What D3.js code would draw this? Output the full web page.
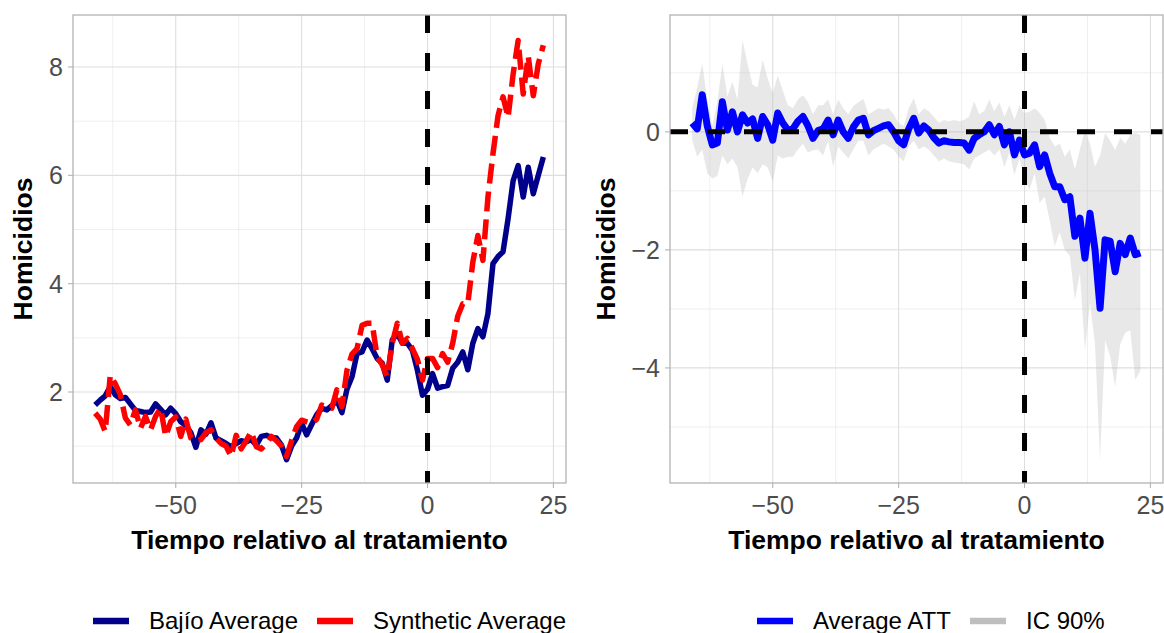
<!DOCTYPE html>
<html>
<head>
<meta charset="utf-8">
<title>Homicidios: Bajío vs sintético</title>
<style>
  body { margin: 0; background: #fff; }
  svg { font-family: "Liberation Sans", Arial, Helvetica, sans-serif; }
  .grid-major { stroke: #dedede; stroke-width: 1.1; }
  .grid-minor { stroke: #ebebeb; stroke-width: 0.8; }
  .frame { fill: none; stroke: #b3b3b3; stroke-width: 1.3; }
  .tick-mark { stroke: #b3b3b3; stroke-width: 1.1; }
  .tick-label { fill: #4d4d4d; font-size: 25px; }
  .axis-title { fill: #000; font-size: 26.5px; font-weight: bold; }
  .legend-label { fill: #000; font-size: 24px; }
</style>
</head>
<body>
<svg id="chart" width="1164" height="633"></svg>
<script src="https://d3js.org/d3.v7.min.js"></script>
<script>
// time relative to treatment
var periods = d3.range(-66, 24);

// left panel
var bajio = [1.76, 1.85, 1.93, 2.10, 1.95, 1.88, 1.90, 1.78, 1.66, 1.64,
             1.62, 1.63, 1.78, 1.68, 1.58, 1.70, 1.60, 1.45, 1.38, 1.25,
             0.98, 1.30, 1.22, 1.43, 1.15, 1.10, 1.05, 0.99, 1.05, 1.10,
             1.08, 1.12, 1.02, 1.18, 1.20, 1.16, 1.15, 1.02, 0.75, 1.00,
             1.15, 1.42, 1.21, 1.40, 1.58, 1.70, 1.67, 1.75, 1.85, 1.62,
             2.05, 2.28, 2.71, 2.74, 2.96, 2.80, 2.62, 2.53, 2.22, 2.96,
             3.08, 2.90, 2.90, 2.77, 2.40, 1.94, 2.05, 2.34, 2.07, 2.10,
             2.12, 2.44, 2.55, 2.74, 2.41, 2.90, 3.17, 3.02, 3.45, 4.37,
             4.50, 4.59, 5.20, 5.90, 6.18, 5.60, 6.15, 5.66, 6.00, 6.34];
var synthetic = [1.61, 1.50, 1.27, 2.31, 2.15, 1.95, 1.52, 1.39, 1.67, 1.33,
                 1.55, 1.30, 1.55, 1.70, 1.18, 1.45, 1.54, 1.18, 1.50, 1.15,
                 1.10, 1.12, 1.25, 1.30, 1.15, 1.05, 1.00, 0.81, 1.20, 0.95,
                 1.10, 1.27, 0.99, 0.95, 1.05, 1.18, 1.10, 1.00, 0.81, 1.10,
                 1.36, 1.48, 1.45, 1.42, 1.50, 1.76, 1.73, 1.70, 2.04, 1.73,
                 2.40, 2.70, 2.80, 3.23, 3.27, 3.27, 2.65, 2.50, 2.28, 2.90,
                 3.27, 2.90, 2.99, 2.80, 2.60, 2.22, 2.62, 2.62, 2.45, 2.71,
                 2.55, 2.90, 3.40, 3.63, 3.63, 4.40, 4.89, 4.43, 5.60, 6.40,
                 7.10, 7.45, 7.07, 7.87, 8.49, 7.50, 8.20, 7.47, 8.06, 8.40];

// right panel
var att = [0.15, 0.05, 0.63, 0.10, -0.22, -0.19, 0.51, 0.03, 0.34, 0.00,
           0.29, 0.15, 0.22, -0.11, 0.26, 0.12, -0.14, 0.32, 0.15, 0.03,
           0.05, 0.18, 0.26, 0.10, -0.11, 0.02, 0.05, 0.20, -0.05, 0.20,
           0.00, -0.11, 0.08, 0.20, 0.23, -0.05, 0.02, 0.06, 0.10, 0.12,
           0.00, -0.15, -0.22, 0.05, 0.23, -0.02, 0.10, 0.03, -0.10, -0.19,
           -0.15, -0.17, -0.18, -0.18, -0.19, -0.31, -0.11, -0.05, 0.00, 0.12,
           -0.05, 0.09, -0.22, 0.00, -0.39, -0.14, -0.39, -0.36, -0.22, -0.59,
           -0.39, -0.70, -0.93, -0.93, -1.15, -1.10, -1.77, -1.46, -2.14, -1.38,
           -2.00, -2.99, -1.83, -1.85, -2.37, -1.89, -2.08, -1.80, -2.08, -2.05];
var icLow = [-0.14, -0.42, -0.30, -0.70, -0.79, -0.75, -0.40, -0.55, -0.45, -0.60,
             -1.10, -0.80, -0.60, -0.70, -0.55, -0.60, -0.85, -0.40, -0.45, -0.42,
             -0.42, -0.30, -0.20, -0.35, -0.31, -0.30, -0.40, -0.15, -0.59, -0.25,
             -0.35, -0.45, -0.30, -0.15, -0.15, -0.40, -0.30, -0.25, -0.20, -0.25,
             -0.30, -0.42, -0.50, -0.25, -0.15, -0.30, -0.25, -0.30, -0.40, -0.50,
             -0.45, -0.50, -0.52, -0.53, -0.55, -0.64, -0.45, -0.40, -0.35, -0.30,
             -0.40, -0.30, -0.60, -0.35, -0.73, -0.45, -0.80, -0.98, -0.70, -1.20,
             -1.10, -1.50, -1.94, -1.70, -2.00, -2.10, -2.85, -2.40, -3.70, -2.90,
             -3.60, -5.56, -3.53, -3.80, -4.32, -3.60, -3.40, -3.36, -4.20, -4.05];
var icHigh = [0.40, 0.75, 1.16, 0.55, 0.10, 0.50, 1.16, 0.60, 0.85, 0.55,
              1.55, 1.16, 0.80, 0.75, 1.22, 0.90, 0.66, 0.95, 0.70, 0.45,
              0.40, 0.55, 0.62, 0.50, 0.30, 0.45, 0.45, 0.55, 0.30, 0.55,
              0.40, 0.30, 0.44, 0.50, 0.56, 0.30, 0.35, 0.40, 0.38, 0.40,
              0.30, 0.15, 0.10, 0.40, 0.57, 0.30, 0.40, 0.35, 0.25, 0.15,
              0.20, 0.18, 0.20, 0.18, 0.20, 0.26, 0.52, 0.30, 0.35, 0.55,
              0.35, 0.50, 0.25, 0.45, 0.20, 0.45, 0.32, 0.34, 0.40, 0.32,
              0.20, -0.10, -0.25, -0.20, -0.42, -0.30, -0.64, -0.30, 0.03, -0.20,
              -0.59, -0.40, -0.02, -0.15, -0.31, -0.10, -0.20, -0.05, -0.02, -0.05];

var xTicks = [-50, -25, 0, 25];
var xMinor = [-62.5, -37.5, -12.5, 12.5];
var yTicksLeft = [2, 4, 6, 8];
var yMinorLeft = [1, 3, 5, 7];
var yTicksRight = [-4, -2, 0];
var yMinorRight = [-5, -3, -1, 1];

var xTitle = "Tiempo relativo al tratamiento";
var yTitle = "Homicidios";

var svg = d3.select("#chart");
var panelTop = 15, panelBottom = 483;

function fmt(v) { return v < 0 ? "\u2212" + Math.abs(v) : String(v); }

function drawPanel(id, left, right, yDomain, yTicks, yMinor, yTitleX) {
  var x = d3.scaleLinear().domain([-70.4, 27.5]).range([left, right]);
  var y = d3.scaleLinear().domain(yDomain).range([panelBottom, panelTop]);
  var g = svg.append("g");

  g.append("clipPath").attr("id", id)
    .append("rect").attr("x", left).attr("y", panelTop)
    .attr("width", right - left).attr("height", panelBottom - panelTop);

  g.selectAll(".ym").data(yMinor).enter().append("line")
    .attr("class", "grid-minor")
    .attr("x1", left).attr("x2", right)
    .attr("y1", d => y(d)).attr("y2", d => y(d));
  g.selectAll(".xm").data(xMinor).enter().append("line")
    .attr("class", "grid-minor")
    .attr("y1", panelTop).attr("y2", panelBottom)
    .attr("x1", d => x(d)).attr("x2", d => x(d));
  g.selectAll(".yM").data(yTicks).enter().append("line")
    .attr("class", "grid-major")
    .attr("x1", left).attr("x2", right)
    .attr("y1", d => y(d)).attr("y2", d => y(d));
  g.selectAll(".xM").data(xTicks).enter().append("line")
    .attr("class", "grid-major")
    .attr("y1", panelTop).attr("y2", panelBottom)
    .attr("x1", d => x(d)).attr("x2", d => x(d));

  // ticks and labels
  g.selectAll(".xt").data(xTicks).enter().append("line")
    .attr("class", "tick-mark")
    .attr("x1", d => x(d)).attr("x2", d => x(d))
    .attr("y1", panelBottom).attr("y2", panelBottom + 5);
  g.selectAll(".xl").data(xTicks).enter().append("text")
    .attr("class", "tick-label")
    .attr("x", d => x(d)).attr("y", panelBottom + 31)
    .attr("text-anchor", "middle").text(fmt);
  g.selectAll(".yt").data(yTicks).enter().append("line")
    .attr("class", "tick-mark")
    .attr("x1", left - 5).attr("x2", left)
    .attr("y1", d => y(d)).attr("y2", d => y(d));
  g.selectAll(".yl").data(yTicks).enter().append("text")
    .attr("class", "tick-label")
    .attr("x", left - 10).attr("y", d => y(d) + 9)
    .attr("text-anchor", "end").text(fmt);

  g.append("text").attr("class", "axis-title")
    .attr("x", (left + right) / 2).attr("y", panelBottom + 66)
    .attr("text-anchor", "middle").text(xTitle);
  g.append("text").attr("class", "axis-title")
    .attr("transform", "translate(" + yTitleX + "," + ((panelTop + panelBottom) / 2) + ") rotate(-90)")
    .attr("text-anchor", "middle").text(yTitle);

  var plot = g.append("g").attr("clip-path", "url(#" + id + ")");
  return { g: g, plot: plot, x: x, y: y, left: left, right: right };
}

function refLines(p, withH) {
  p.plot.append("line")
    .attr("x1", p.x(0)).attr("x2", p.x(0)).attr("y1", panelTop).attr("y2", panelBottom)
    .attr("stroke", "#000").attr("stroke-width", 5).attr("stroke-dasharray", "18,20");
  if (withH) {
    p.plot.append("line")
      .attr("x1", p.left).attr("x2", p.right).attr("y1", p.y(0)).attr("y2", p.y(0))
      .attr("stroke", "#000").attr("stroke-width", 5).attr("stroke-dasharray", "18,19");
  }
}

// ---- left panel ----
var L = drawPanel("clipL", 73, 566, [0.32, 8.96], yTicksLeft, yMinorLeft, 32);
var lineL = d3.line().x((d, i) => L.x(periods[i])).y(d => L.y(d));
L.plot.append("path").datum(bajio).attr("d", lineL)
  .attr("fill", "none").attr("stroke", "#00008B").attr("stroke-width", 5.5)
  .attr("stroke-linejoin", "round");
L.plot.append("path").datum(synthetic).attr("d", lineL)
  .attr("fill", "none").attr("stroke", "#FF0000").attr("stroke-width", 5.5)
  .attr("stroke-dasharray", "20,8").attr("stroke-linejoin", "round");
refLines(L, false);

// ---- right panel ----
var R = drawPanel("clipR", 670, 1163, [-5.95, 1.98], yTicksRight, yMinorRight, 615);
var area = d3.area().x((d, i) => R.x(periods[i]))
  .y0((d, i) => R.y(icLow[i])).y1((d, i) => R.y(icHigh[i]));
R.plot.append("path").datum(att).attr("d", area)
  .attr("fill", "#BEBEBE").attr("fill-opacity", 0.35);
var lineR = d3.line().x((d, i) => R.x(periods[i])).y(d => R.y(d));
R.plot.append("path").datum(att).attr("d", lineR)
  .attr("fill", "none").attr("stroke", "#0000FF").attr("stroke-width", 7)
  .attr("stroke-linejoin", "round");
refLines(R, true);

// frames on top
[L, R].forEach(function (p) {
  p.g.append("rect").attr("class", "frame")
    .attr("x", p.left).attr("y", panelTop)
    .attr("width", p.right - p.left).attr("height", panelBottom - panelTop);
});

// ---- legends ----
var legendY = 621;
var legendItems = [
  { x: 93, label: "Bajío Average", color: "#00008B" },
  { x: 317, label: "Synthetic Average", color: "#FF0000" },
  { x: 757, label: "Average ATT", color: "#0000FF" },
  { x: 970, label: "IC 90%", color: "#BEBEBE" }
];
var leg = svg.append("g");
leg.selectAll("line").data(legendItems).enter().append("line")
  .attr("x1", d => d.x).attr("x2", d => d.x + 36)
  .attr("y1", legendY).attr("y2", legendY)
  .attr("stroke", d => d.color).attr("stroke-width", 6.5);
leg.selectAll("text").data(legendItems).enter().append("text")
  .attr("class", "legend-label")
  .attr("x", d => d.x + 56).attr("y", legendY + 8)
  .text(d => d.label);
</script>
</body>
</html>
